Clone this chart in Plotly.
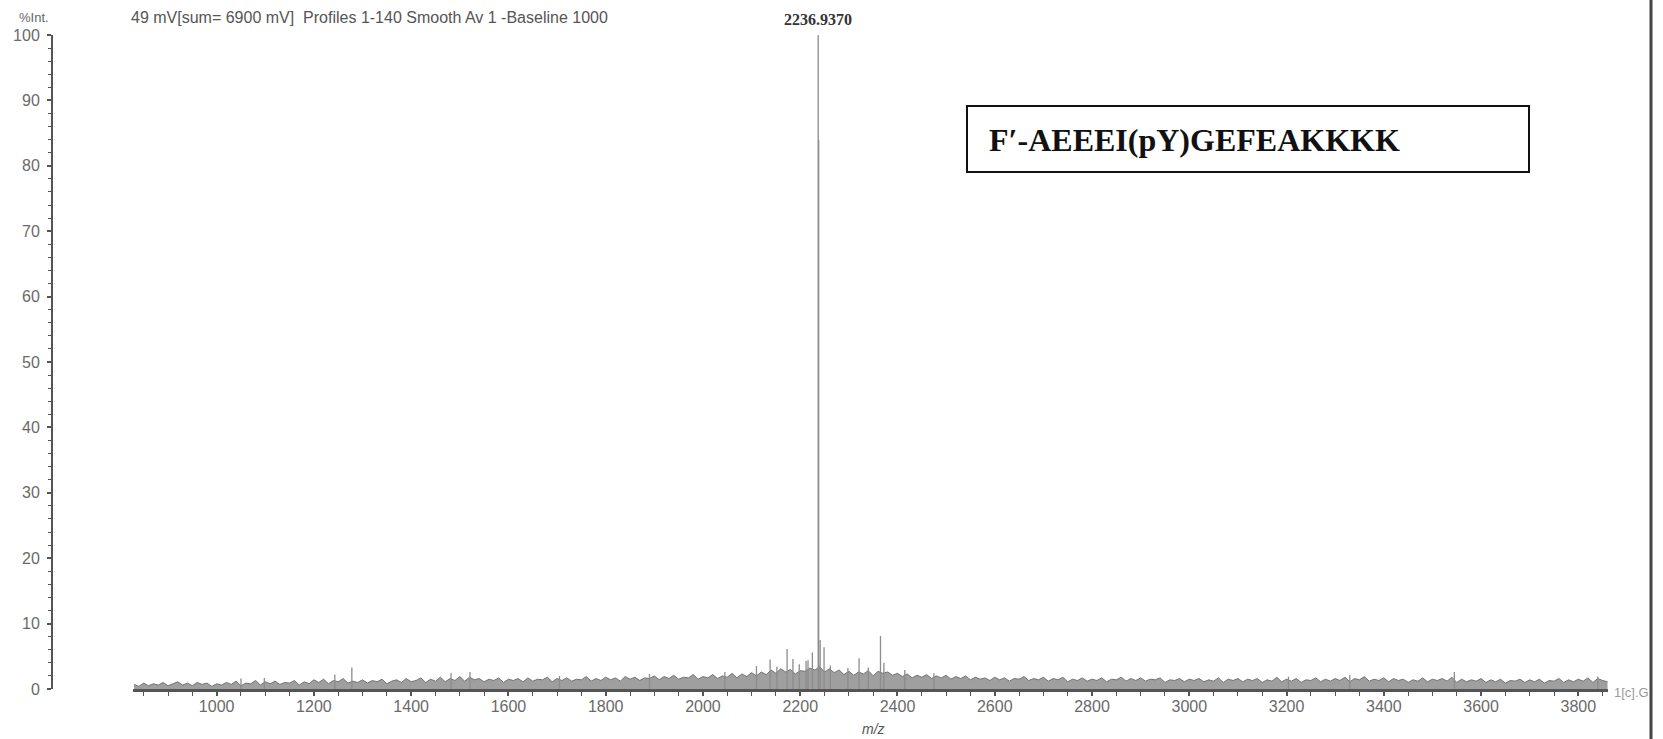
import plotly.graph_objects as go

# ---------------- data ----------------
x_tick_vals = [1000, 1200, 1400, 1600, 1800, 2000, 2200, 2400, 2600, 2800, 3000, 3200, 3400, 3600, 3800]
x_tick_text = ["1000", "1200", "1400", "1600", "1800", "2000", "2200", "2400", "2600", "2800", "3000", "3200", "3400", "3600", "3800"]
y_tick_vals = [0, 10, 20, 30, 40, 50, 60, 70, 80, 90, 100]
y_tick_text = ["0", "10", "20", "30", "40", "50", "60", "70", "80", "90", "100"]

# baseline noise profile (m/z, %Int)
noise_mz = [
    830, 840, 850, 860, 870, 880, 890, 900,
    910, 920, 930, 940, 950, 960, 970, 980, 990, 1000,
    1010, 1020, 1030, 1040, 1050, 1060, 1070, 1080, 1090, 1100,
    1110, 1120, 1130, 1140, 1150, 1160, 1170, 1180, 1190, 1200,
    1210, 1220, 1230, 1240, 1250, 1260, 1270, 1280, 1290, 1300,
    1310, 1320, 1330, 1340, 1350, 1360, 1370, 1380, 1390, 1400,
    1410, 1420, 1430, 1440, 1450, 1460, 1470, 1480, 1490, 1500,
    1510, 1520, 1530, 1540, 1550, 1560, 1570, 1580, 1590, 1600,
    1610, 1620, 1630, 1640, 1650, 1660, 1670, 1680, 1690, 1700,
    1710, 1720, 1730, 1740, 1750, 1760, 1770, 1780, 1790, 1800,
    1810, 1820, 1830, 1840, 1850, 1860, 1870, 1880, 1890, 1900,
    1910, 1920, 1930, 1940, 1950, 1960, 1970, 1980, 1990, 2000,
    2010, 2020, 2030, 2040, 2050, 2060, 2070, 2080, 2090, 2100,
    2110, 2120, 2130, 2140, 2150, 2160, 2170, 2180, 2190, 2200,
    2210, 2220, 2230, 2240, 2250, 2260, 2270, 2280, 2290, 2300,
    2310, 2320, 2330, 2340, 2350, 2360, 2370, 2380, 2390, 2400,
    2410, 2420, 2430, 2440, 2450, 2460, 2470, 2480, 2490, 2500,
    2510, 2520, 2530, 2540, 2550, 2560, 2570, 2580, 2590, 2600,
    2610, 2620, 2630, 2640, 2650, 2660, 2670, 2680, 2690, 2700,
    2710, 2720, 2730, 2740, 2750, 2760, 2770, 2780, 2790, 2800,
    2810, 2820, 2830, 2840, 2850, 2860, 2870, 2880, 2890, 2900,
    2910, 2920, 2930, 2940, 2950, 2960, 2970, 2980, 2990, 3000,
    3010, 3020, 3030, 3040, 3050, 3060, 3070, 3080, 3090, 3100,
    3110, 3120, 3130, 3140, 3150, 3160, 3170, 3180, 3190, 3200,
    3210, 3220, 3230, 3240, 3250, 3260, 3270, 3280, 3290, 3300,
    3310, 3320, 3330, 3340, 3350, 3360, 3370, 3380, 3390, 3400,
    3410, 3420, 3430, 3440, 3450, 3460, 3470, 3480, 3490, 3500,
    3510, 3520, 3530, 3540, 3550, 3560, 3570, 3580, 3590, 3600,
    3610, 3620, 3630, 3640, 3650, 3660, 3670, 3680, 3690, 3700,
    3710, 3720, 3730, 3740, 3750, 3760, 3770, 3780, 3790, 3800,
    3810, 3820, 3830, 3840, 3850, 3860,
]
noise_int = [
    0.7, 0.4, 0.9, 0.5, 0.8, 0.6, 1.0, 0.5,
    0.8, 1.1, 0.6, 0.9, 0.5, 1.0, 0.7, 0.9, 0.4, 0.8,
    0.6, 1.0, 0.7, 1.2, 0.5, 0.9, 0.8, 1.3, 0.6, 1.1,
    0.8, 1.2, 0.7, 1.0, 0.9, 1.3, 0.6, 1.1, 0.8, 1.4,
    1.0, 1.5, 0.8, 1.3, 1.1, 1.6, 0.9, 1.2, 1.0, 1.4,
    0.9, 1.3, 1.1, 1.5, 0.8, 1.2, 1.4, 1.0, 1.6, 1.1,
    1.3, 1.7, 1.0, 1.5, 1.2, 1.8, 1.1, 1.6, 1.3, 1.9,
    1.2, 1.8, 1.4, 1.6, 1.1, 1.5, 1.3, 1.7, 1.0, 1.5,
    1.3, 1.6, 1.1, 1.7, 1.2, 1.5, 1.4, 1.8, 1.1, 1.6,
    1.3, 1.7, 1.2, 1.5, 1.4, 1.9, 1.2, 1.6, 1.3, 1.8,
    1.4, 1.7, 1.2, 1.9, 1.5, 1.8, 1.3, 1.7, 1.6, 2.0,
    1.4, 1.9, 1.6, 2.1, 1.5, 1.8, 1.7, 2.2, 1.5, 1.9,
    1.7, 2.2, 1.6, 2.0, 1.8, 2.4, 1.7, 2.3, 1.9, 2.5,
    2.0, 2.6, 2.2, 2.9, 2.4, 3.1, 2.6, 3.0, 2.3, 2.8,
    2.7, 3.2, 2.9, 3.4, 2.6, 3.1, 2.5, 2.9, 2.2, 2.7,
    2.1, 2.6, 2.3, 2.8, 2.0, 2.7, 2.4, 2.6, 2.1, 2.4,
    1.9, 2.3, 1.7, 2.1, 1.8, 2.2, 1.6, 2.0, 1.7, 2.1,
    1.5, 1.9, 1.6, 2.0, 1.4, 1.8, 1.5, 1.7, 1.3, 1.8,
    1.4, 1.7, 1.2, 1.6, 1.5, 1.9, 1.3, 1.6, 1.4, 1.8,
    1.2, 1.6, 1.4, 1.8, 1.1, 1.5, 1.3, 1.7, 1.2, 1.5,
    1.3, 1.7, 1.1, 1.5, 1.4, 1.8, 1.2, 1.6, 1.3, 1.7,
    1.2, 1.5, 1.4, 1.7, 1.0, 1.4, 1.3, 1.6, 1.1, 1.5,
    1.3, 1.6, 1.1, 1.4, 1.2, 1.7, 1.0, 1.5, 1.3, 1.6,
    1.1, 1.5, 1.3, 1.6, 1.0, 1.4, 1.2, 1.8, 1.1, 1.5,
    1.2, 1.6, 1.0, 1.4, 1.3, 1.7, 1.1, 1.5, 1.2, 1.6,
    1.3, 1.8, 1.1, 1.6, 1.4, 1.9, 1.2, 1.5, 1.3, 1.7,
    1.1, 1.6, 1.3, 1.5, 1.0, 1.4, 1.2, 1.7, 1.1, 1.5,
    1.3, 1.6, 1.2, 1.8, 1.0, 1.5, 1.1, 1.4, 1.2, 1.6,
    1.0, 1.4, 1.1, 1.5, 0.9, 1.3, 1.2, 1.5, 1.0, 1.4,
    1.1, 1.5, 0.9, 1.3, 1.2, 1.6, 1.0, 1.4, 1.1, 1.5,
    1.2, 1.7, 1.0, 1.6, 1.3, 1.1,
]

# distinct peaks (m/z, %Int)
peak_mz = [1050, 1098, 1243, 1278, 1482, 1521, 1705, 1890, 2045, 2110, 2138, 2152,
           2173, 2185, 2198, 2212, 2216, 2225, 2236.937, 2237.94, 2241, 2249, 2262,
           2298, 2321, 2340, 2365, 2372, 2415, 2475, 3204, 3330, 3545, 3840]
peak_int = [1.6, 1.7, 2.2, 3.3, 2.4, 2.6, 2.0, 2.3, 2.6, 3.5, 4.5, 3.4,
            6.1, 4.6, 3.8, 4.3, 4.4, 5.6, 100, 84, 7.5, 6.4, 3.6,
            3.2, 4.7, 3.3, 8.1, 4.0, 2.9, 2.4, 1.9, 2.1, 2.6, 1.9]

label_peak_mz = 2236.937
label_peak_text = "2236.9370"
header_text = "49 mV[sum= 6900 mV]  Profiles 1-140 Smooth Av 1 -Baseline 1000"
y_label_text = "%Int."
x_label_text = "m/z"
box_text = "F\u2032-AEEEI(pY)GEFEAKKKK"
corner_text = "1[c].G"

# ---------------- figure ----------------
W, H = 1663, 739
ML, MR, MT, MB = 52, 55, 35, 50
PW = W - ML - MR
PH = H - MT - MB


def px_x(p):  # pixel -> paper x
    return (p - ML) / PW


def px_y(p):  # pixel -> paper y
    return (H - MB - p) / PH


fig = go.Figure()

fig.add_trace(go.Scatter(
    x=noise_mz, y=noise_int, mode="lines",
    line=dict(color="rgb(115,115,115)", width=1),
    fill="tozeroy", fillcolor="rgba(135,135,135,0.8)",
    hoverinfo="skip", showlegend=False,
))

sx, sy = [], []
for m, v in zip(peak_mz, peak_int):
    sx += [m, m, None]
    sy += [0, v, None]
fig.add_trace(go.Scatter(
    x=sx, y=sy, mode="lines",
    line=dict(color="rgb(140,140,140)", width=1.3),
    hoverinfo="skip", showlegend=False,
))

axis_col = "#555555"
tick_font = dict(family="Liberation Sans, Arial, sans-serif", size=16, color="#6a6a6a")

fig.update_layout(
    width=W, height=H,
    margin=dict(l=ML, r=MR, t=MT, b=MB, pad=0, autoexpand=False),
    paper_bgcolor="white", plot_bgcolor="white",
    showlegend=False,
    xaxis=dict(
        domain=[px_x(133), 1], range=[828, 3861],
        tickmode="array", tickvals=x_tick_vals, ticktext=x_tick_text,
        ticks="outside", ticklen=4, tickwidth=1.5, tickcolor=axis_col,
        minor=dict(tickmode="linear", tick0=0, dtick=50, ticks="outside",
                   ticklen=4, tickwidth=1.2, tickcolor=axis_col),
        showline=True, linecolor=axis_col, linewidth=2.5,
        showgrid=False, zeroline=False, automargin=False,
        tickfont=tick_font, ticklabelstandoff=-3,
    ),
    yaxis=dict(
        anchor="free", position=0, range=[0, 100],
        tickmode="array", tickvals=y_tick_vals, ticktext=y_tick_text,
        ticks="outside", ticklen=4, tickwidth=1.5, tickcolor=axis_col,
        minor=dict(tickmode="linear", tick0=0, dtick=2, ticks="outside",
                   ticklen=3, tickwidth=1.2, tickcolor=axis_col),
        showline=True, linecolor=axis_col, linewidth=2,
        showgrid=False, zeroline=False, automargin=False,
        tickfont=tick_font, ticklabelstandoff=4,
    ),
)

annotations = [
    dict(text=y_label_text, xref="paper", yref="paper", x=px_x(17), y=px_y(18),
         xanchor="left", yanchor="middle", showarrow=False,
         font=dict(family="Liberation Sans, Arial, sans-serif", size=13, color="#666")),
    dict(text=header_text, xref="paper", yref="paper", x=px_x(129), y=px_y(18),
         xanchor="left", yanchor="middle", showarrow=False,
         font=dict(family="Liberation Sans, Arial, sans-serif", size=16, color="#555")),
    dict(text="<b>" + label_peak_text + "</b>", xref="x", yref="paper",
         x=label_peak_mz, y=px_y(19), xanchor="center", yanchor="middle", showarrow=False,
         font=dict(family="Liberation Serif, Times New Roman, serif", size=16, color="#333")),
    dict(text="<i>" + x_label_text + "</i>", xref="paper", yref="paper",
         x=px_x(874), y=px_y(729), xanchor="center", yanchor="middle", showarrow=False,
         font=dict(family="Liberation Sans, Arial, sans-serif", size=14, color="#555")),
    dict(text=corner_text, xref="paper", yref="paper", x=px_x(1612), y=px_y(692),
         xanchor="left", yanchor="middle", showarrow=False,
         font=dict(family="Liberation Sans, Arial, sans-serif", size=13, color="#9a9a9a")),
    dict(text="<b>" + box_text + "</b>", xref="paper", yref="paper",
         x=px_x(987), y=px_y(140), xanchor="left", yanchor="middle", showarrow=False,
         font=dict(family="Liberation Serif, Times New Roman, serif", size=32, color="#111")),
]
fig.update_layout(annotations=annotations)

shapes = [
    dict(type="rect", xref="paper", yref="paper",
         x0=px_x(967), x1=px_x(1529), y0=px_y(172), y1=px_y(106),
         line=dict(color="#111", width=2), fillcolor="rgba(0,0,0,0)"),
    dict(type="line", xref="paper", yref="paper",
         x0=px_x(1651), x1=px_x(1651), y0=px_y(H + 5), y1=px_y(-5),
         line=dict(color="#444", width=3)),
]
fig.update_layout(shapes=shapes)

fig.write_html(
    "out.html",
    config={"displayModeBar": False},
    post_script="document.body.style.margin='0';document.body.style.overflow='hidden';"
                "document.documentElement.style.overflow='hidden';",
)
